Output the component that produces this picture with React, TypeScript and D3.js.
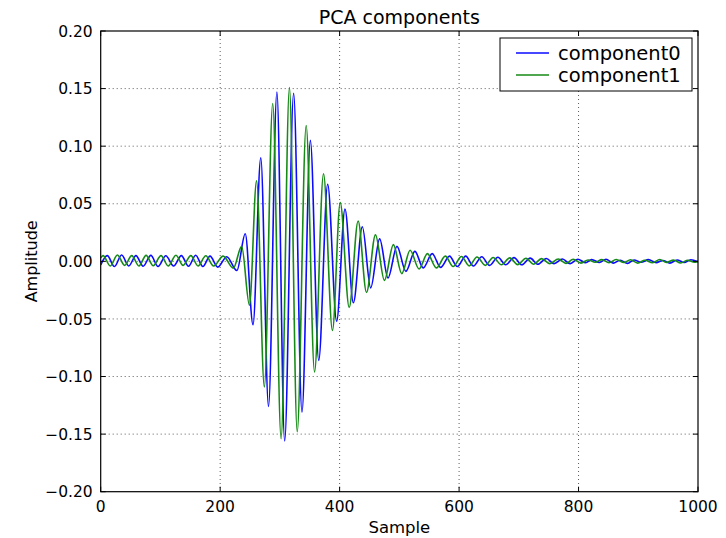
import React from "react";
import * as d3 from "d3";

// ---- data ----
const title = "PCA components";
const xLabel = "Sample";
const yLabel = "Amplitude";
const seriesNames = ["component0", "component1"];
const xTicks = [0, 200, 400, 600, 800, 1000];
const yTicks = [-0.2, -0.15, -0.1, -0.05, 0, 0.05, 0.1, 0.15, 0.2];
const xGrid = [200, 400, 600, 800];
const yGrid = [-0.15, -0.1, -0.05, 0, 0.05, 0.1, 0.15];

// [sample, amplitude] turning points of each trace
const component0: [number, number][] = [
  [0, -0.003], [11, 0.005], [23, -0.0045], [35, 0.0055], [47, -0.004], [59, 0.005], [71, -0.0042],
  [84, 0.0052], [96, -0.0045], [109, 0.0048], [122, -0.004], [135, 0.005], [147, -0.0043],
  [159, 0.0053], [171, -0.0045], [183, 0.0045], [196, -0.005], [211, 0.004], [228, -0.008],
  [242, 0.024], [255, -0.055], [268, 0.09], [281, -0.126], [295, 0.147], [308, -0.156],
  [323, 0.146], [337, -0.131], [351, 0.105], [365, -0.086], [380, 0.067], [395, -0.052],
  [409, 0.0455], [423, -0.036], [438, 0.03], [452, -0.023], [467, 0.0195], [481, -0.0144],
  [496, 0.013], [511, -0.0087], [526, 0.0087], [540, -0.0057], [555, 0.0067], [569, -0.0052],
  [584, 0.0045], [597, -0.0045], [611, 0.0045], [624, -0.004], [638, 0.004], [651, -0.0035],
  [665, 0.0035], [678, -0.003], [692, 0.0032], [705, -0.003], [719, 0.0028], [732, -0.0025],
  [746, 0.0025], [759, -0.002], [773, 0.002], [786, -0.002], [799, 0.0018], [812, -0.0012],
  [822, 0.0015], [835, -0.001], [846, 0.0018], [858, -0.0015], [870, 0.001], [882, -0.0018],
  [893, 0.0012], [905, -0.0008], [917, 0.0015], [930, -0.0012], [941, 0.0008], [953, -0.0015],
  [965, 0.0012], [977, -0.001], [988, 0.0014], [1000, -0.0005],
];

const component1: [number, number][] = [
  [0, 0.003], [4, 0.005], [16, -0.004], [28, 0.0055], [40, -0.0035], [52, 0.005], [64, -0.004],
  [76, 0.0052], [88, -0.0038], [101, 0.005], [113, -0.004], [126, 0.0053], [138, -0.0035],
  [151, 0.005], [163, -0.004], [176, 0.0048], [189, -0.004], [205, 0.0045], [222, -0.006],
  [236, 0.013], [249, -0.038], [261, 0.07], [274, -0.109], [288, 0.137], [302, -0.154],
  [316, 0.151], [329, -0.148], [344, 0.118], [358, -0.096], [373, 0.076], [388, -0.06],
  [401, 0.051], [416, -0.04], [431, 0.035], [445, -0.027], [460, 0.023], [475, -0.0165],
  [490, 0.0145], [504, -0.0107], [518, 0.0096], [533, -0.0066], [547, 0.0067], [562, -0.0057],
  [577, 0.0045], [590, -0.0045], [604, 0.0042], [617, -0.004], [630, 0.0038], [644, -0.0035],
  [657, 0.0034], [671, -0.003], [685, 0.003], [698, -0.0028], [712, 0.0027], [725, -0.0025],
  [738, 0.0024], [752, -0.002], [766, 0.002], [779, -0.0018], [791, 0.0018], [804, -0.0015],
  [816, 0.0012], [828, -0.0008], [839, 0.0015], [851, -0.0012], [863, 0.0016], [876, -0.001],
  [887, 0.0014], [899, -0.0015], [911, 0.0009], [924, -0.0012], [936, 0.0016], [947, -0.0009],
  [959, 0.0011], [971, -0.0014], [983, 0.001], [994, -0.0008], [1000, 0.0003],
];

const seriesColors = ["#0a0aff", "#168a16"];

// ---- layout ----
const W = 726;
const H = 538;
const plot = { left: 100.7, right: 698, top: 31, bottom: 491.7 };
const FONT = "'DejaVu Sans', sans-serif";

export default function App() {
  const x = d3.scaleLinear().domain([0, 1000]).range([plot.left, plot.right]);
  const y = d3.scaleLinear().domain([-0.2, 0.2]).range([plot.bottom, plot.top]);
  const line = d3
    .line<[number, number]>()
    .x((d) => x(d[0]))
    .y((d) => y(d[1]))
    .curve(d3.curveMonotoneX);
  const fmt = d3.format(".2f");
  const series = [component0, component1];
  const tickLen = 5;

  const legend = { x: 500, y: 38, w: 192, h: 53 };
  const rowY = [legend.y + 15, legend.y + 37];

  return (
    <svg
      width={W}
      height={H}
      style={{ position: "absolute", left: 0, top: 0, background: "#fff" }}
      fontFamily={FONT}
    >
      <defs>
        <clipPath id="plotClip">
          <rect x={plot.left} y={plot.top} width={plot.right - plot.left} height={plot.bottom - plot.top} />
        </clipPath>
      </defs>
      <rect x={0} y={0} width={W} height={H} fill="#fff" />

      {/* grid */}
      <g stroke="#333" strokeWidth={0.8} strokeDasharray="1,3">
        {xGrid.map((t) => (
          <line key={"gx" + t} x1={x(t)} x2={x(t)} y1={plot.top} y2={plot.bottom} />
        ))}
        {yGrid.map((t) => (
          <line key={"gy" + t} x1={plot.left} x2={plot.right} y1={y(t)} y2={y(t)} />
        ))}
      </g>

      {/* traces */}
      <g clipPath="url(#plotClip)" fill="none" strokeWidth={1.6} strokeLinejoin="round">
        {series.map((s, i) => (
          <path key={seriesNames[i]} d={line(s) || ""} stroke={seriesColors[i]} />
        ))}
      </g>

      {/* frame */}
      <rect
        x={plot.left}
        y={plot.top}
        width={plot.right - plot.left}
        height={plot.bottom - plot.top}
        fill="none"
        stroke="#000"
        strokeWidth={1.2}
      />

      {/* ticks */}
      <g stroke="#000" strokeWidth={1}>
        {xTicks.map((t) => (
          <g key={"tx" + t}>
            <line x1={x(t)} x2={x(t)} y1={plot.bottom} y2={plot.bottom - tickLen} />
            <line x1={x(t)} x2={x(t)} y1={plot.top} y2={plot.top + tickLen} />
          </g>
        ))}
        {yTicks.map((t) => (
          <g key={"ty" + t}>
            <line x1={plot.left} x2={plot.left + tickLen} y1={y(t)} y2={y(t)} />
            <line x1={plot.right} x2={plot.right - tickLen} y1={y(t)} y2={y(t)} />
          </g>
        ))}
      </g>

      {/* tick labels */}
      <g fontSize={15.5} fill="#000">
        {xTicks.map((t) => (
          <text key={"lx" + t} x={x(t)} y={plot.bottom + 20} textAnchor="middle">
            {String(t)}
          </text>
        ))}
        {yTicks.map((t) => (
          <text key={"ly" + t} x={plot.left - 8} y={y(t) + 5.6} textAnchor="end">
            {fmt(t)}
          </text>
        ))}
      </g>

      {/* axis labels and title */}
      <text x={(plot.left + plot.right) / 2} y={533} textAnchor="middle" fontSize={16.5}>
        {xLabel}
      </text>
      <text
        transform={`translate(37, ${(plot.top + plot.bottom) / 2}) rotate(-90)`}
        textAnchor="middle"
        fontSize={16}
      >
        {yLabel}
      </text>
      <text x={(plot.left + plot.right) / 2} y={24} textAnchor="middle" fontSize={19}>
        {title}
      </text>

      {/* legend */}
      <g>
        <rect x={legend.x} y={legend.y} width={legend.w} height={legend.h} fill="#fff" stroke="#000" strokeWidth={1} />
        {seriesNames.map((n, i) => (
          <g key={"lg" + n}>
            <line
              x1={legend.x + 16}
              x2={legend.x + 49}
              y1={rowY[i]}
              y2={rowY[i]}
              stroke={seriesColors[i]}
              strokeWidth={1.6}
            />
            <text x={legend.x + 58} y={rowY[i] + 7} fontSize={19.5}>
              {n}
            </text>
          </g>
        ))}
      </g>
    </svg>
  );
}
